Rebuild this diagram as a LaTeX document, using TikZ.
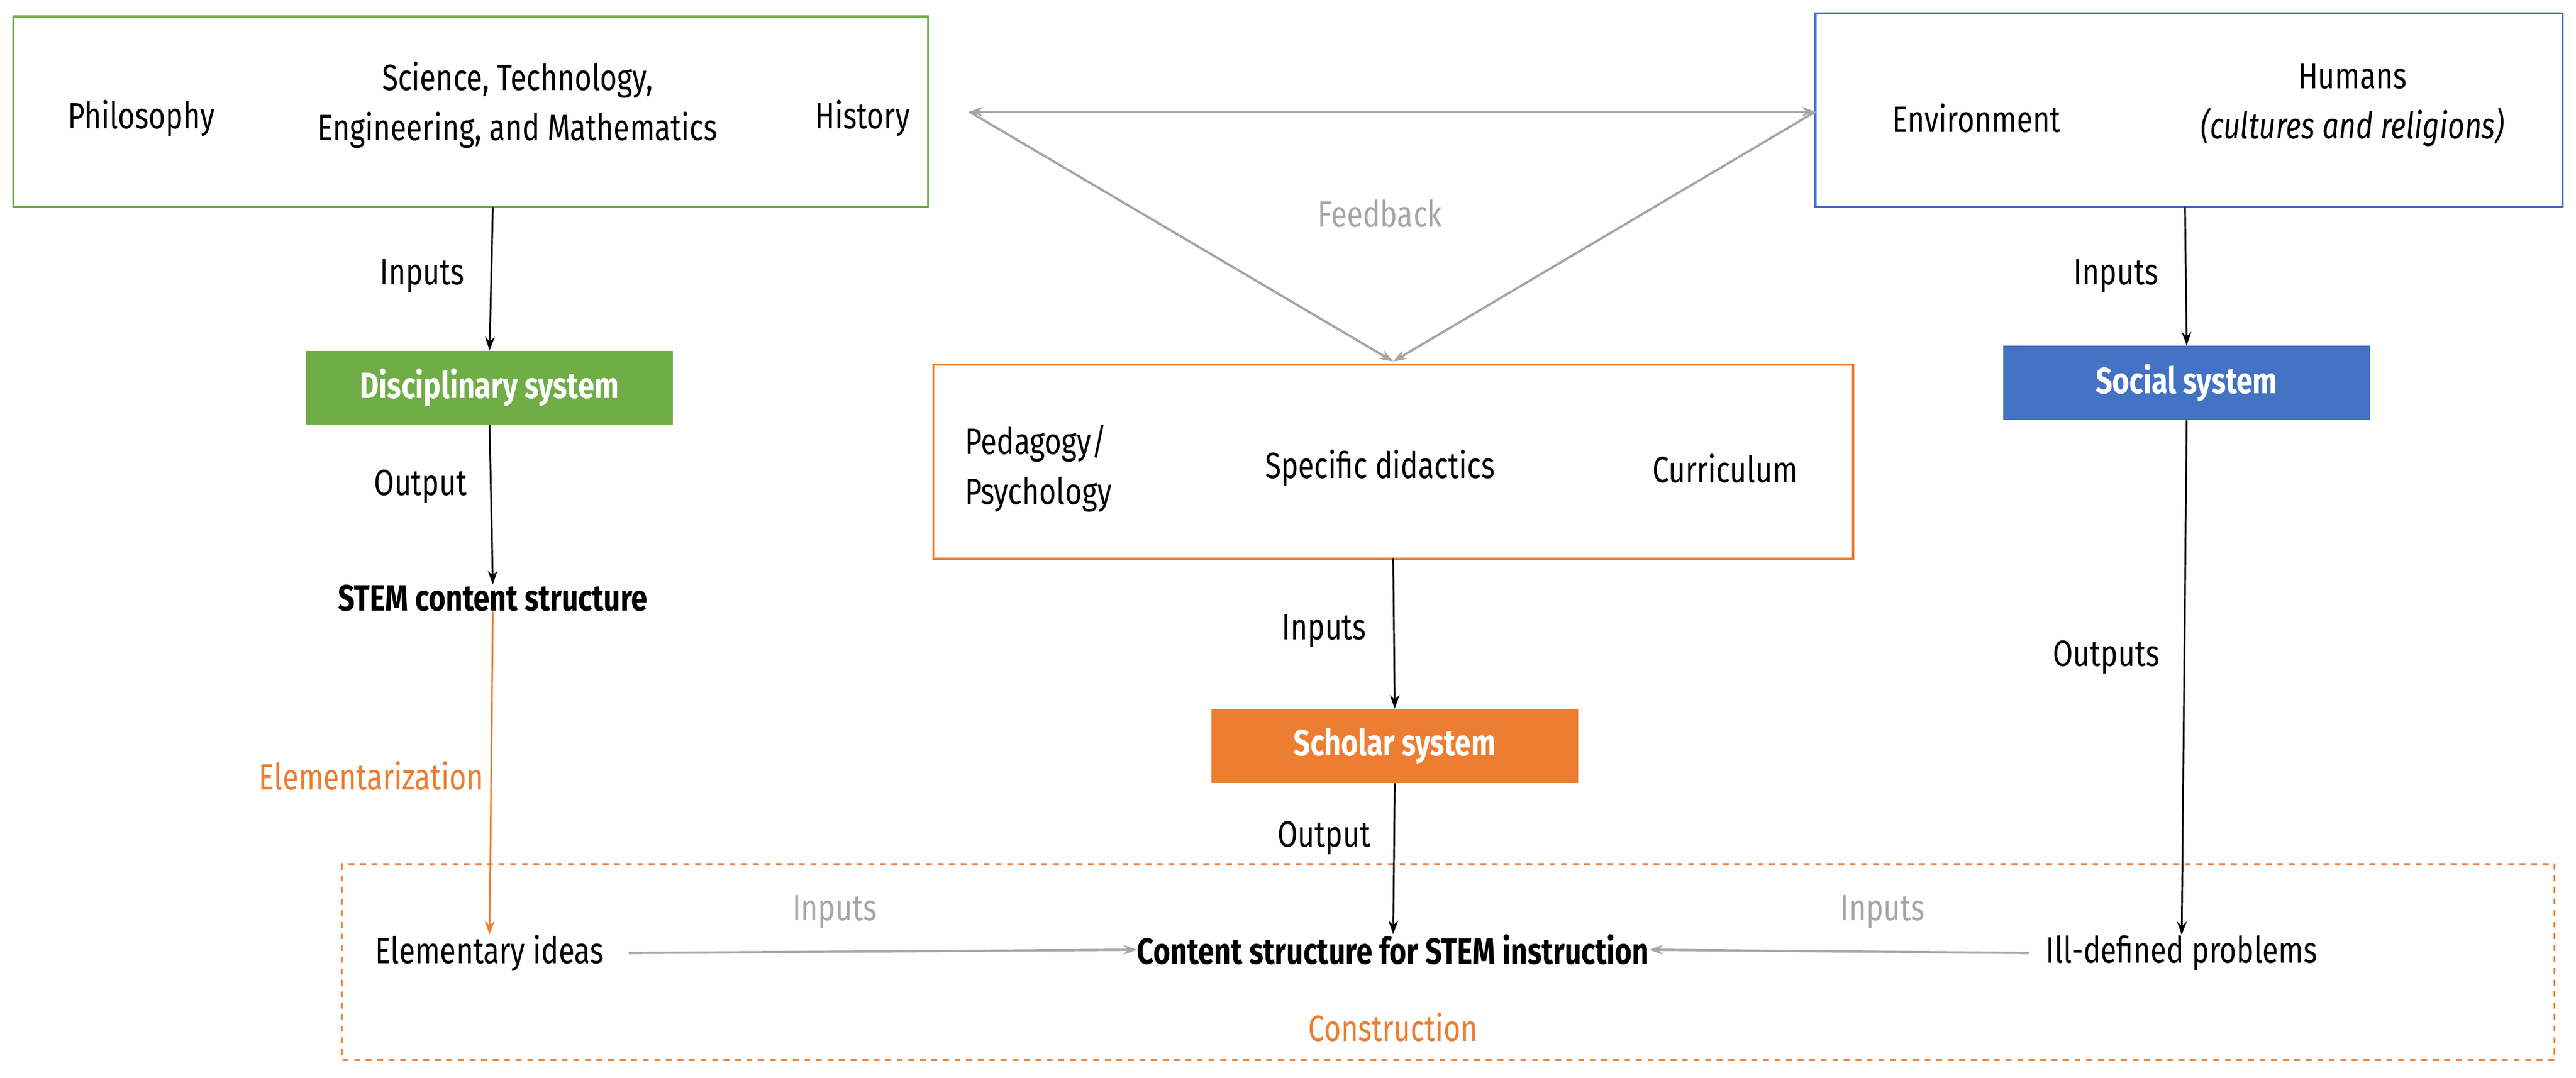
\documentclass[tikz,border=0pt]{standalone}
\usepackage{fontspec}
\setmainfont[FakeStretch=0.8]{Fira Sans}
\usepackage{tikz}
\usetikzlibrary{arrows.meta}
\definecolor{cgreen}{HTML}{70AD47}
\definecolor{cblue}{HTML}{4472C4}
\definecolor{corange}{HTML}{ED7D31}
\definecolor{cgray}{HTML}{A6A6A6}
\tikzset{
  txt/.style={font=\fontsize{19}{26}\selectfont, align=center, inner sep=0pt},
  sys/.style={txt, font=\fontsize{19}{23}\selectfont\bfseries, text=white, minimum width=6.69cm, minimum height=1.35cm},
  arr/.style={-{Stealth[length=7pt,width=5pt]}, line width=0.9pt},
  garr/.style={arr, cgray, line width=1.2pt}
}
\begin{document}
\begin{tikzpicture}[x=0.03cm, y=-0.03cm]
        \useasboundingbox (0,0) rectangle (1568,656);

        % top boxes
        \draw[cgreen, line width=1pt] (8,10) rectangle (565,126);
        \draw[cblue, line width=1pt] (1105,8) rectangle (1560,126);
        \node[txt] (phil) at (86,72) {Philosophy};
        \node[txt] (stem) at (315,64) {Science, Technology,\\Engineering, and Mathematics};
        \node[txt] (hist) at (525,72) {History};
        \node[txt] (env) at (1203,72) {Environment};
        \node[txt] (hum) at (1432,64) {Humans\\\itshape(cultures and religions)};

        % coordinates for the connectors
        \coordinate (gtop) at (300,126);
        \coordinate (btop) at (1330,126);
        \coordinate (fbl) at (590,68);
        \coordinate (fbr) at (1105,68);
        \coordinate (fbm) at (848,220);
        \coordinate (otop) at (848,340);

        % systems
        \node[sys, fill=cgreen] (dis) at (298,236) {Disciplinary system};
        \node[sys, fill=corange] (sch) at (849,454) {Scholar system};
        \node[sys, fill=cblue] (soc) at (1331,233) {Social system};

        % middle box
        \draw[corange, line width=1pt] (568,222) rectangle (1128,340);
        \node[txt, align=left] (ped) at (632,285) {Pedagogy/\\Psychology};
        \node[txt] (did) at (840,285) {Specific didactics};
        \node[txt] (cur) at (1050,285) {Curriculum};

        % bottom
        \draw[corange, dashed, line width=1pt] (208,526) rectangle (1555,645);
        \node[txt, font=\fontsize{19}{23}\selectfont\bfseries] (cst) at (300,364) {STEM content structure};
        \node[txt] (ele) at (298,580) {Elementary ideas};
        \node[txt, font=\fontsize{19}{23}\selectfont\bfseries] (con) at (848,578) {Content structure for STEM instruction};
        \node[txt] (ill) at (1328,580) {Ill-defined problems};
        \node[txt, text=corange] at (848,625) {Construction};

        % feedback
        \draw[garr, {Stealth[length=7pt,width=5pt]}-{Stealth[length=7pt,width=5pt]}] (fbl) -- (fbr);
        \draw[garr] (fbl) -- (fbm);
        \draw[garr] (fbr) -- (fbm);
        \node[txt, text=cgray] at (840,130) {Feedback};

        % left column
        \draw[arr] (gtop) -- (dis.north);
        \node[txt] at (257,168) {Inputs};
        \draw[arr] (dis.south) -- (cst.north);
        \node[txt] at (256,296) {Output};
        \draw[arr, corange] (cst.south) -- (ele.north);
        \node[txt, text=corange] at (226,472) {Elementarization};

        % middle column
        \draw[arr] (otop) -- (sch.north);
        \node[txt] at (806,384) {Inputs};
        \draw[arr] (sch.south) -- (con.north);
        \node[txt] at (806,510) {Output};

        % right column
        \draw[arr] (btop) -- (soc.north);
        \node[txt] at (1288,168) {Inputs};
        \draw[arr] (soc.south) -- (ill.north);
        \node[txt] at (1282,400) {Outputs};

        % inputs to content structure
        \draw[garr] (ele.east) ++(15,0) coordinate (e1) (e1) -- (con.west);
        \node[txt, text=cgray] at (508,555) {Inputs};
        \draw[garr] (ill.west) ++(-10,0) coordinate (i1) (i1) -- (con.east);
        \node[txt, text=cgray] at (1146,555) {Inputs};
\end{tikzpicture}
\end{document}
